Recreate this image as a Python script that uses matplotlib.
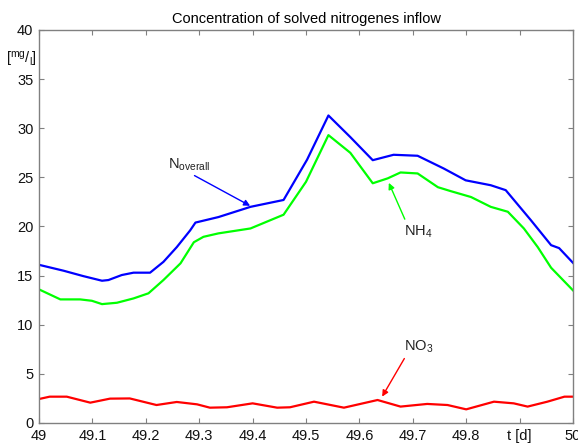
import matplotlib.pyplot as plt

plt.rcParams['font.family'] = 'Liberation Sans'
plt.rcParams['mathtext.fontset'] = 'custom'
plt.rcParams['mathtext.rm'] = 'Liberation Sans'
plt.rcParams['mathtext.it'] = 'Liberation Sans'

# N overall (blue)
t_all = [49.0, 49.046, 49.083, 49.118, 49.13, 49.155, 49.177, 49.208, 49.233, 49.258,
         49.283, 49.293, 49.336, 49.396, 49.458, 49.502, 49.542, 49.583, 49.625, 49.664,
         49.709, 49.758, 49.799, 49.846, 49.874, 49.921, 49.959, 49.974, 50.0]
n_all = [16.1, 15.5, 14.95, 14.48, 14.55, 15.06, 15.3, 15.3, 16.4, 17.9,
         19.6, 20.4, 20.96, 22.0, 22.7, 26.8, 31.3, 29.1, 26.75, 27.3,
         27.2, 25.9, 24.7, 24.2, 23.7, 20.65, 18.1, 17.8, 16.3]

# NH4 (green)
t_nh4 = [49.0, 49.04, 49.077, 49.099, 49.118, 49.146, 49.177, 49.205, 49.233, 49.265,
         49.29, 49.308, 49.336, 49.396, 49.458, 49.5, 49.542, 49.583, 49.625, 49.653,
         49.677, 49.709, 49.747, 49.771, 49.809, 49.846, 49.878, 49.908, 49.934, 49.959, 50.0]
nh4 = [13.6, 12.58, 12.58, 12.44, 12.1, 12.24, 12.68, 13.2, 14.55, 16.25,
       18.4, 18.95, 19.3, 19.8, 21.2, 24.55, 29.3, 27.5, 24.4, 24.9,
       25.5, 25.4, 24.0, 23.6, 23.0, 22.0, 21.5, 19.8, 17.9, 15.8, 13.5]

# NO3 (red)
t_no3 = [49.0, 49.02, 49.052, 49.096, 49.133, 49.17, 49.22, 49.258, 49.296, 49.32,
         49.352, 49.4, 49.446, 49.47, 49.515, 49.571, 49.634, 49.677, 49.727, 49.765,
         49.8, 49.852, 49.889, 49.915, 49.952, 49.984, 50.0]
no3 = [2.44, 2.68, 2.68, 2.07, 2.48, 2.5, 1.83, 2.14, 1.9, 1.56,
       1.6, 2.0, 1.56, 1.6, 2.17, 1.56, 2.34, 1.67, 1.94, 1.83,
       1.39, 2.17, 2.0, 1.67, 2.17, 2.68, 2.68]

xticks = [49.0, 49.1, 49.2, 49.3, 49.4, 49.5, 49.6, 49.7, 49.8, 49.9, 50.0]
xlabels = ['49', '49.1', '49.2', '49.3', '49.4', '49.5', '49.6', '49.7', '49.8', 't [d]', '50']
yticks = [0, 5, 10, 15, 20, 25, 30, 35, 40]

fig = plt.figure(figsize=(5.78, 4.46), dpi=100)
ax = fig.add_axes([39/578, 23/446, 534/578, 393/446])

ax.plot(t_all, n_all, color='#0000ff', lw=1.6)
ax.plot(t_nh4, nh4, color='#00ff00', lw=1.6)
ax.plot(t_no3, no3, color='#ff0000', lw=1.6)

ax.set_xlim(49, 50)
ax.set_ylim(0, 40)
ax.set_xticks(xticks)
ax.set_xticklabels(xlabels)
ax.set_yticks(yticks)
ax.tick_params(direction='in', top=True, right=True, length=3.5, color='#808080',
               labelsize=10.5, labelcolor='#111111', pad=4)
for s in ax.spines.values():
    s.set_color('#808080')
    s.set_linewidth(1.0)

ax.set_title('Concentration of solved nitrogenes inflow', fontsize=10.5, pad=5)
ax.text(-0.005, 0.925, r'$\mathrm{[^{mg}/_{l}]}$', transform=ax.transAxes,
        ha='right', va='center', fontsize=10.5, color='#111111')

arr = dict(arrowstyle='-|>', lw=1.0, mutation_scale=9)
ax.annotate(r'N$_{\mathrm{overall}}$', xy=(49.4, 21.97), xytext=(49.242, 26.3),
            fontsize=10.5, color='#222222', va='center',
            arrowprops=dict(arr, color='#0000ff', shrinkA=0, relpos=(0.5, 0)))
ax.annotate(r'NH$_4$', xy=(49.653, 24.7), xytext=(49.683, 19.5),
            fontsize=10.5, color='#222222', va='center',
            arrowprops=dict(arr, color='#00ff00', shrinkA=1, relpos=(0.1, 1)))
ax.annotate(r'NO$_3$', xy=(49.64, 2.44), xytext=(49.683, 7.8),
            fontsize=10.5, color='#222222', va='center',
            arrowprops=dict(arr, color='#ff0000', shrinkA=1, relpos=(0.1, 0)))

fig.savefig('out.png', dpi=100)
